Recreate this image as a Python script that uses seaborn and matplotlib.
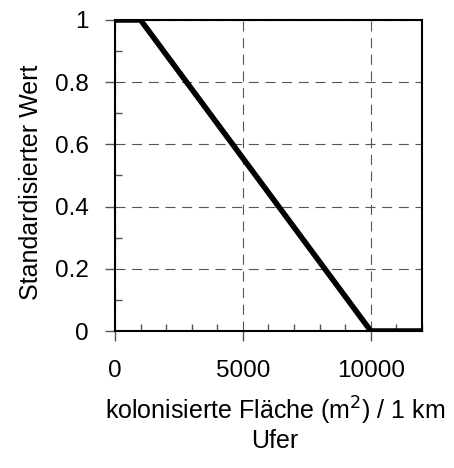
import matplotlib
matplotlib.use("Agg")
import matplotlib.pyplot as plt
import seaborn as sns
import pandas as pd
from matplotlib.ticker import MultipleLocator

x_vals = [0, 1000, 10000, 12000]
y_vals = [1, 1, 0, 0]
x_ticks = [0, 5000, 10000]
y_ticks = [0, 0.2, 0.4, 0.6, 0.8, 1]
y_ticklabels = ["0", "0.2", "0.4", "0.6", "0.8", "1"]

sns.set_theme(style="white")
plt.rcParams['font.family'] = ['Liberation Sans', 'DejaVu Sans']

df = pd.DataFrame({"x": x_vals, "y": y_vals})

fig = plt.figure(figsize=(4.54, 4.68), dpi=100)
ax = fig.add_axes([0.2533, 0.2927, 0.6762, 0.6646])
sns.lineplot(data=df, x="x", y="y", ax=ax, color="black", linewidth=4)

ax.set_xlim(0, 12000)
ax.set_ylim(0, 1)
ax.set_xticks(x_ticks)
ax.set_xticklabels([str(t) for t in x_ticks])
ax.set_yticks(y_ticks)
ax.set_yticklabels(y_ticklabels)
ax.xaxis.set_minor_locator(MultipleLocator(1000))
ax.yaxis.set_minor_locator(MultipleLocator(0.1))

ax.grid(True, which="major", linestyle=(0, (9, 6)), color="#555555", linewidth=0.8)
ax.set_axisbelow(True)

ax.tick_params(axis="both", which="major", direction="out", length=7, width=1, color="#555555",
               labelsize=17.5, labelcolor="black")
ax.tick_params(axis="x", which="major", pad=14)
ax.tick_params(axis="y", which="major", pad=12)
ax.tick_params(axis="both", which="minor", direction="in", length=5, width=1, color="#555555")
ax.tick_params(axis="x", which="both", bottom=True)
ax.tick_params(axis="y", which="both", left=True)

for s in ax.spines.values():
    s.set_color("black")
    s.set_linewidth(1.5)
    s.set_visible(True)

ax.set_xlabel("kolonisierte Fläche (m$^2$) / 1 km\nUfer", fontsize=18, color="black",
              linespacing=1.1)
ax.xaxis.set_label_coords(0.52, -0.30, transform=ax.transAxes)
ax.xaxis.label.set_va("center")
ax.set_ylabel("Standardisierter Wert", fontsize=18, color="black")
ax.yaxis.set_label_coords(-0.275, 0.479, transform=ax.transAxes)
ax.yaxis.label.set_va("center")

fig.savefig("out.png", dpi=100)
